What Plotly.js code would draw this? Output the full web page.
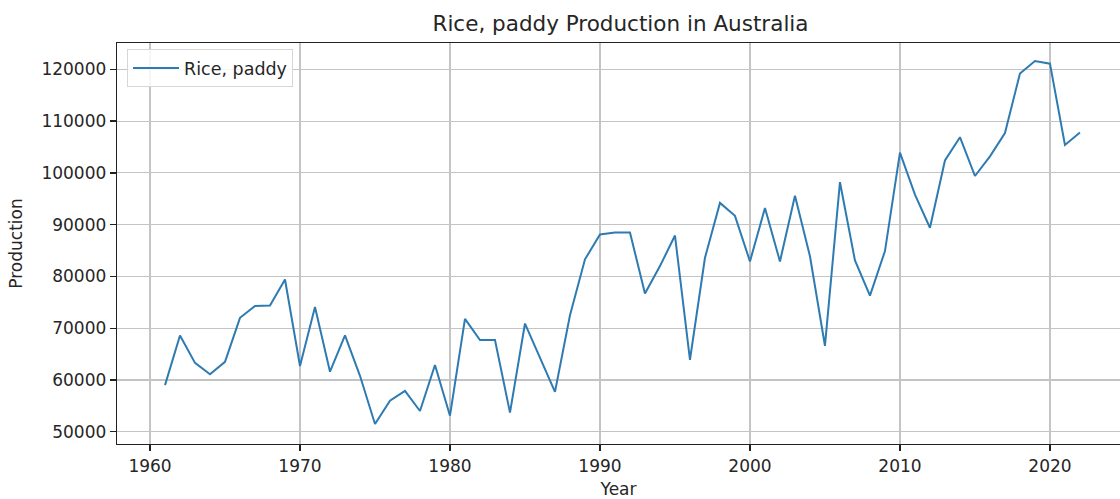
<!DOCTYPE html>
<html>
<head>
<meta charset="utf-8">
<script src="https://cdn.plot.ly/plotly-3.0.1.min.js"></script>
<style>html,body{margin:0;padding:0;background:#fff;}#chart{width:1120px;height:499px;}</style>
</head>
<body>
<div id="chart"></div>
<script>
const years = [1961,1962,1963,1964,1965,1966,1967,1968,1969,1970,1971,1972,1973,1974,1975,1976,1977,1978,1979,1980,1981,1982,1983,1984,1985,1986,1987,1988,1989,1990,1991,1992,1993,1994,1995,1996,1997,1998,1999,2000,2001,2002,2003,2004,2005,2006,2007,2008,2009,2010,2011,2012,2013,2014,2015,2016,2017,2018,2019,2020,2021,2022];
const production = [59000,68600,63300,61100,63500,72000,74300,74400,79400,62700,74100,61600,68600,60800,51500,56000,57900,54000,62900,53100,71800,67700,67700,53700,70900,64300,57700,72500,83300,88100,88500,88500,76700,82000,87900,63900,83600,94200,91700,82900,93200,82900,95600,83900,66600,98200,83100,76300,84900,103900,95800,89400,102400,106900,99400,103200,107700,119200,121600,121100,105400,107800];
const seriesName = "Rice, paddy";
const chartTitle = "Rice, paddy Production in Australia";
const xTicks = [1960,1970,1980,1990,2000,2010,2020];
const yTicks = [50000,60000,70000,80000,90000,100000,110000,120000];

const font = "DejaVu Sans, sans-serif";
const txt = "#262626";
Plotly.newPlot("chart", [{
  x: years, y: production, type: "scatter", mode: "lines", name: seriesName,
  line: {color: "#2e7bb2", width: 2}
}], {
  width: 1120, height: 499,
  margin: {l: 117, r: 0, t: 43, b: 55},
  paper_bgcolor: "#fff", plot_bgcolor: "#fff",
  font: {family: font, size: 17, color: txt},
  title: {text: chartTitle, x: 0.554, xanchor: "center", y: 0.952, yanchor: "middle", font: {family: font, size: 21.5, color: txt}},
  showlegend: true,
  legend: {x: 0.01, y: 0.985, xanchor: "left", yanchor: "top", bgcolor: "rgba(255,255,255,0.85)", bordercolor: "#d6d6d6", borderwidth: 1, font: {family: font, size: 17.5, color: txt}, itemwidth: 46},
  xaxis: {
    range: [1957.8, 2024.67], tickvals: xTicks, ticktext: xTicks.map(String),
    showgrid: true, gridcolor: "#c4c4c4", gridwidth: 1.2,
    showline: true, linecolor: "#222", linewidth: 1.3, mirror: true,
    ticks: "outside", ticklen: 6, tickwidth: 1.3, tickcolor: "#222", zeroline: false,
    tickfont: {family: font, size: 17, color: txt},
    title: {text: "Year", font: {family: font, size: 17, color: txt}, standoff: 10}
  },
  yaxis: {
    range: [47630, 125090], tickvals: yTicks, ticktext: yTicks.map(String),
    showgrid: true, gridcolor: "#c4c4c4", gridwidth: 1.2,
    showline: true, linecolor: "#222", linewidth: 1.3,
    ticks: "outside", ticklen: 6, tickwidth: 1.3, tickcolor: "#222", zeroline: false,
    tickfont: {family: font, size: 17, color: txt},
    title: {text: "Production", font: {family: font, size: 17, color: txt}, standoff: 14}
  }
}, {displayModeBar: false, staticPlot: true});
</script>
</body>
</html>
